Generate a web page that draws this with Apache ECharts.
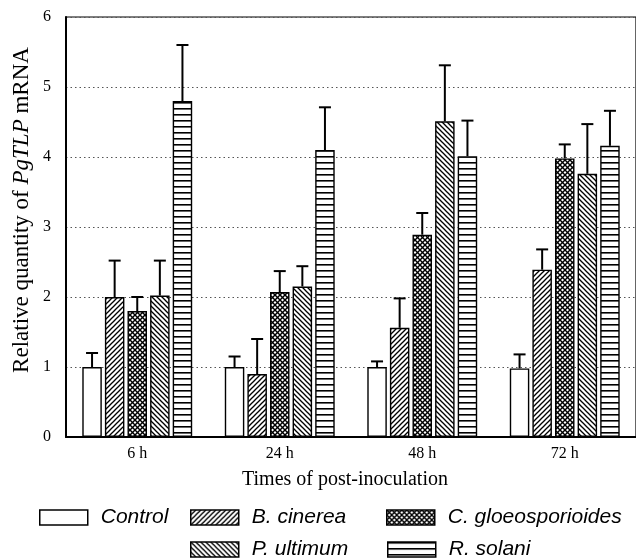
<!DOCTYPE html>
<html>
<head>
<meta charset="utf-8">
<script src="https://cdn.jsdelivr.net/npm/echarts@6/dist/echarts.min.js"></script>
<style>html,body{margin:0;padding:0;background:#fff}#c{width:636px;height:560px}</style>
</head>
<body>
<div id="c"></div>
<script>
// ---- data ----
var categories = ['6 h', '24 h', '48 h', '72 h'];
var seriesNames = ['Control', 'B. cinerea', 'C. gloeosporioides', 'P. ultimum', 'R. solani'];
var controlVals = [1.00, 1.00, 1.00, 0.98];
var cinereaVals = [2.00, 0.90, 1.56, 2.39];
var gloeoVals   = [1.80, 2.07, 2.89, 3.98];
var ultimumVals = [2.02, 2.15, 4.51, 3.76];
var solaniVals  = [4.80, 4.10, 4.01, 4.16];
var controlErr = [0.20, 0.15, 0.08, 0.20];
var cinereaErr = [0.52, 0.50, 0.42, 0.29];
var gloeoErr   = [0.20, 0.30, 0.31, 0.20];
var ultimumErr = [0.50, 0.29, 0.80, 0.71];
var solaniErr  = [0.80, 0.61, 0.51, 0.50];
var yTicks = [0, 1, 2, 3, 4, 5, 6];

var values = [controlVals, cinereaVals, gloeoVals, ultimumVals, solaniVals];
var errors = [controlErr, cinereaErr, gloeoErr, ultimumErr, solaniErr];

// ---- patterns ----
function makePattern(kind) {
  var c = document.createElement('canvas');
  var w = 5, h = 5;
  if (kind === 'h') { w = 6; h = 6; }
  c.width = w; c.height = h;
  var g = c.getContext('2d');
  g.fillStyle = '#fff'; g.fillRect(0, 0, w, h);
  g.strokeStyle = '#000';
  function diag(up, lw) {
    g.lineWidth = lw;
    for (var k = -1; k <= 1; k++) {
      g.beginPath();
      if (up) { g.moveTo(k * w - 1, h + 1); g.lineTo(k * w + w + 1, -1); }
      else { g.moveTo(k * w - 1, -1); g.lineTo(k * w + w + 1, h + 1); }
      g.stroke();
    }
  }
  if (kind === '/') diag(true, 1.3);
  else if (kind === '\\') diag(false, 1.3);
  else if (kind === 'x') { diag(true, 1.4); diag(false, 1.4); }
  else if (kind === 'h') { g.fillStyle = '#000'; g.fillRect(0, 0, w, 1.6); }
  else return '#fff';
  return { image: c, repeat: 'repeat' };
}
var fills = [makePattern('none'), makePattern('/'), makePattern('x'), makePattern('\\'), makePattern('h')];

var BAR_W = 19.5, GAP_PX = 3.1;
var PITCH = BAR_W + GAP_PX;

var series = [];
seriesNames.forEach(function (name, i) {
  series.push({
    name: name, type: 'bar', data: values[i], barWidth: BAR_W,
    barGap: (GAP_PX / BAR_W * 100).toFixed(1) + '%',
    itemStyle: { color: fills[i], borderColor: '#000', borderWidth: 1.4 },
    emphasis: { disabled: true }, z: 2
  });
});
seriesNames.forEach(function (name, i) {
  var d = values[i].map(function (v, k) { return [k, v, v + errors[i][k]]; });
  series.push({
    name: name + ' err', type: 'custom', data: d, z: 3,
    encode: { x: 0, y: [1, 2] },
    renderItem: function (params, api) {
      var base = api.coord([api.value(0), api.value(1)]);
      var top = api.coord([api.value(0), api.value(2)]);
      var x = base[0] + (i - 2) * PITCH;
      var st = { stroke: '#000', lineWidth: 2 };
      return { type: 'group', children: [
        { type: 'line', shape: { x1: x, y1: base[1], x2: x, y2: top[1] }, style: st },
        { type: 'line', shape: { x1: x - 6, y1: top[1], x2: x + 6, y2: top[1] }, style: st }
      ] };
    }
  });
});

var legendPos = [[39, 507], [190, 507], [386, 507], [190, 539], [387, 539]];
var legends = seriesNames.map(function (name, i) {
  return {
    data: [{ name: name, icon: 'rect' }], left: legendPos[i][0], top: legendPos[i][1], padding: 0,
    itemWidth: 48, itemHeight: 15, selectedMode: false,
    itemStyle: { borderColor: '#000', borderWidth: 1.5 },
    textStyle: { fontFamily: 'Liberation Sans', fontStyle: 'italic', fontSize: 21, color: '#000', padding: [0, 0, 0, 8] }
  };
});

var chart = echarts.init(document.getElementById('c'));
chart.setOption({
  animation: false,
  backgroundColor: '#fff',
  grid: { left: 66, top: 17, width: 574, bottom: 123, show: true, borderColor: '#000', borderWidth: 1.2, backgroundColor: 'transparent' },
  legend: legends,
  xAxis: {
    type: 'category', data: categories,
    axisLine: { lineStyle: { color: '#000', width: 2 } },
    axisTick: { alignWithLabel: true, length: 6, lineStyle: { color: '#000', width: 1.5 } },
    axisLabel: { fontFamily: 'Liberation Serif', fontSize: 16, color: '#000', margin: 9 }
  },
  yAxis: {
    type: 'value', min: 0, max: 6, interval: 1,
    axisLine: { show: true, lineStyle: { color: '#000', width: 2 } },
    axisTick: { show: false },
    axisLabel: { fontFamily: 'Liberation Serif', fontSize: 16, color: '#000', margin: 15,
      formatter: function (v) { return yTicks.indexOf(v) >= 0 ? String(v) : ''; } },
    splitLine: { lineStyle: { color: '#555', width: 1, type: [1.5, 3] } }
  },
  graphic: [
    { type: 'text', x: 345, y: 480, style: { text: 'Times of post-inoculation', fontFamily: 'Liberation Serif', fontSize: 20, fill: '#000', align: 'center', verticalAlign: 'middle' } },
    { type: 'text', x: 22, y: 210, rotation: Math.PI / 2, style: {
      text: '{a|Relative quantity of }{b|PgTLP}{a| mRNA}', align: 'center', verticalAlign: 'middle', fill: '#000',
      rich: { a: { fontFamily: 'Liberation Serif', fontSize: 23, fill: '#000' }, b: { fontFamily: 'Liberation Serif', fontStyle: 'italic', fontSize: 23, fill: '#000' } } } }
  ],
  series: series
});
</script>
</body>
</html>
